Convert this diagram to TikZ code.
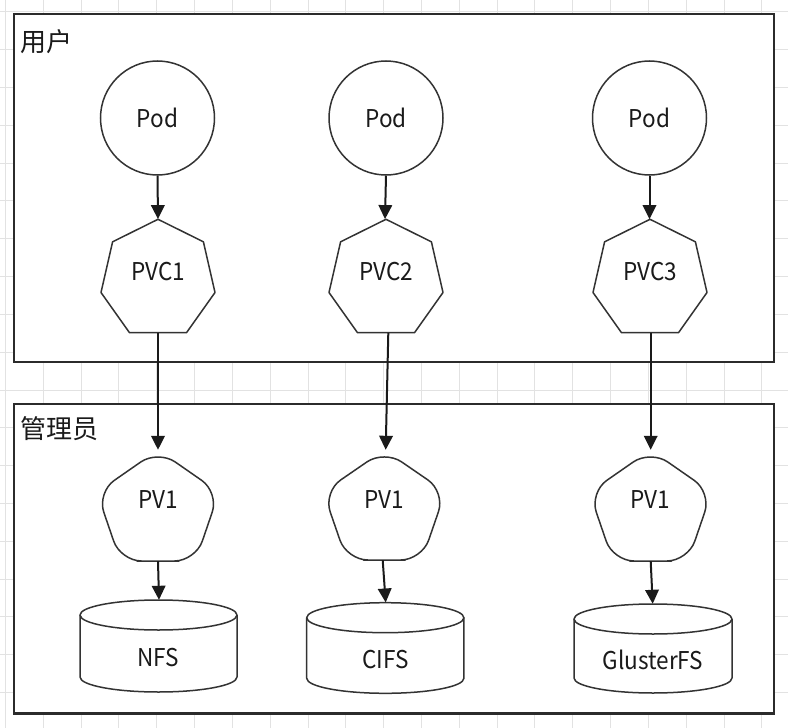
\documentclass[tikz,border=0pt]{standalone}
\usepackage{fontspec}
\setmainfont{Noto Sans CJK SC}
\newfontfamily\latinf[FakeStretch=0.92]{Noto Sans CJK SC}
\usetikzlibrary{arrows.meta}
\definecolor{framec}{HTML}{2B2B2B}
\definecolor{linec}{HTML}{333333}
\definecolor{arrc}{HTML}{1A1A1A}
\definecolor{gridc}{HTML}{E2E2E2}
\tikzset{
  gridline/.style={draw=gridc, line width=1pt},
  frame/.style={draw=framec, line width=2.4pt, fill=white, inner sep=0pt, anchor=north west},
  shapeline/.style={draw=linec, line width=1.5pt, line join=round},
  holder/.style={shape=rectangle, inner sep=0pt},
  podc/.style={shape=circle, draw=linec, line width=1.5pt, inner sep=0pt, minimum size=114pt, text=arrc, font=\latinf\fontsize{24.5}{29}\selectfont},
  arr/.style={draw=arrc, line width=2pt, -{Triangle[length=14pt,width=13.5pt]}},
  lbl/.style={inner sep=0pt, text=arrc, font=\latinf\fontsize{24.5}{29}\selectfont},
  hdr/.style={inner sep=0pt, anchor=west, text=arrc, font=\fontsize{26}{30}\selectfont}
}
\begin{document}
\begin{tikzpicture}[x=1pt, y=-1pt]
\useasboundingbox (0,0) rectangle (788,728);
% grid
\begin{scope}
\clip (0,0) rectangle (788,728);
\foreach \k in {-1,...,20} \draw[gridline] ({43.2+37.83*\k},-5) -- ({43.2+37.83*\k},735);
\foreach \k in {-11,...,9} \draw[gridline] (-5,{390+37.83*\k}) -- (795,{390+37.83*\k});
\end{scope}
% frames
\node[frame, minimum width=760pt, minimum height=348pt] (userbox) at (13,13) {};
\node[frame, minimum width=760pt, minimum height=309.6pt] (adminbox) at (13,402.7) {};
\node[hdr] (userlbl) at (20,41.5) {用户};
\node[hdr] (adminlbl) at (20,428.5) {管理员};
% pods
\node[podc] (pod1) at (157.5,118) {Pod};
\node[podc] (pod2) at (386,118) {Pod};
\node[podc] (pod3) at (649.5,118) {Pod};
% PVC heptagons
\node[holder, minimum width=114pt, minimum height=113.4pt] (pvc1) at (158,276) {};
\node[holder, minimum width=114pt, minimum height=113.4pt] (pvc2) at (386,276) {};
\node[holder, minimum width=114pt, minimum height=113.4pt] (pvc3) at (650,276) {};
\foreach \n in {pvc1,pvc2,pvc3}
  \draw[shapeline] ([shift={(0,-56.7)}]\n.center) -- ([shift={(45.4,-34.2)}]\n.center)
    -- ([shift={(57,16.5)}]\n.center) -- ([shift={(28.5,56.7)}]\n.center)
    -- ([shift={(-28.5,56.7)}]\n.center) -- ([shift={(-57,16.5)}]\n.center)
    -- ([shift={(-45.4,-34.2)}]\n.center) -- cycle;
\node[lbl] (pvc1t) at ([yshift=4.7pt]pvc1.center) {PVC1};
\node[lbl] (pvc2t) at ([yshift=4.7pt]pvc2.center) {PVC2};
\node[lbl] (pvc3t) at ([yshift=4.7pt]pvc3.center) {PVC3};
% PV pentagons
\node[holder, minimum width=122pt, minimum height=111pt] (pv1) at (158,505.5) {};
\node[holder, minimum width=122pt, minimum height=110pt] (pv2) at (384.3,505) {};
\node[holder, minimum width=122pt, minimum height=111pt] (pv3) at (650.5,505.5) {};
\foreach \n/\h in {pv1/55.5,pv2/55,pv3/55.5}
  \draw[shapeline, rounded corners=21pt] ([shift={(0,\h)}]\n.center)
    -- ([shift={(-37.5,\h)}]\n.center) -- ([shift={(-61,-13.1)}]\n.center)
    -- ([shift={(0,-\h)}]\n.center) -- ([shift={(61,-13.1)}]\n.center)
    -- ([shift={(37.5,\h)}]\n.center) -- cycle;
\node[lbl] (pv1t) at ([yshift=5.5pt]pv1.center) {PV1};
\node[lbl] (pv2t) at ([yshift=5pt]pv2.center) {PV1};
\node[lbl] (pv3t) at ([yshift=5.5pt]pv3.center) {PV1};
% cylinders
\node[holder, minimum width=157pt, minimum height=92pt] (nfs) at (158.5,646) {};
\node[holder, minimum width=157pt, minimum height=90.6pt] (cifs) at (385.3,648) {};
\node[holder, minimum width=158pt, minimum height=89pt] (gfs) at (653,648.5) {};
\foreach \n/\w/\h in {nfs/78.5/31, cifs/78.6/30.3, gfs/79/29.5} {
  \draw[shapeline] ([shift={(-\w,-\h)}]\n.center) -- ([shift={(-\w,\h)}]\n.center)
    arc[start angle=180, end angle=360, x radius=\w pt, y radius=15pt]
    -- ([shift={(\w,-\h)}]\n.center);
  \draw[shapeline] ([shift={(0,-\h)}]\n.center) ellipse [x radius=\w pt, y radius=15pt];
}
\node[lbl] (nfst) at (158.5,658) {NFS};
\node[lbl] (cifst) at (385.3,659.5) {CIFS};
\node[lbl] (gfst) at (653,660) {GlusterFS};
% connectors
\draw[arr] (pod1.south) -- (pvc1.north);
\draw[arr] (pod2.south) -- ([xshift=-1pt]pvc2.north);
\draw[arr] (pod3.south) -- ([xshift=-0.5pt]pvc3.north);
\draw[arr] (pvc1.south) -- (pv1.north);
\draw[arr] ([xshift=2.3pt]pvc2.south) -- ([xshift=1.4pt]pv2.north);
\draw[arr] ([xshift=0.7pt]pvc3.south) -- ([xshift=0.2pt]pv3.north);
\draw[arr] (pv1.south) -- ([xshift=0.5pt]nfs.north);
\draw[arr] ([xshift=-1.6pt]pv2.south) -- ([xshift=0.4pt]cifs.north);
\draw[arr] ([xshift=0.2pt]pv3.south) -- ([xshift=-0.3pt]gfs.north);
\end{tikzpicture}
\end{document}
